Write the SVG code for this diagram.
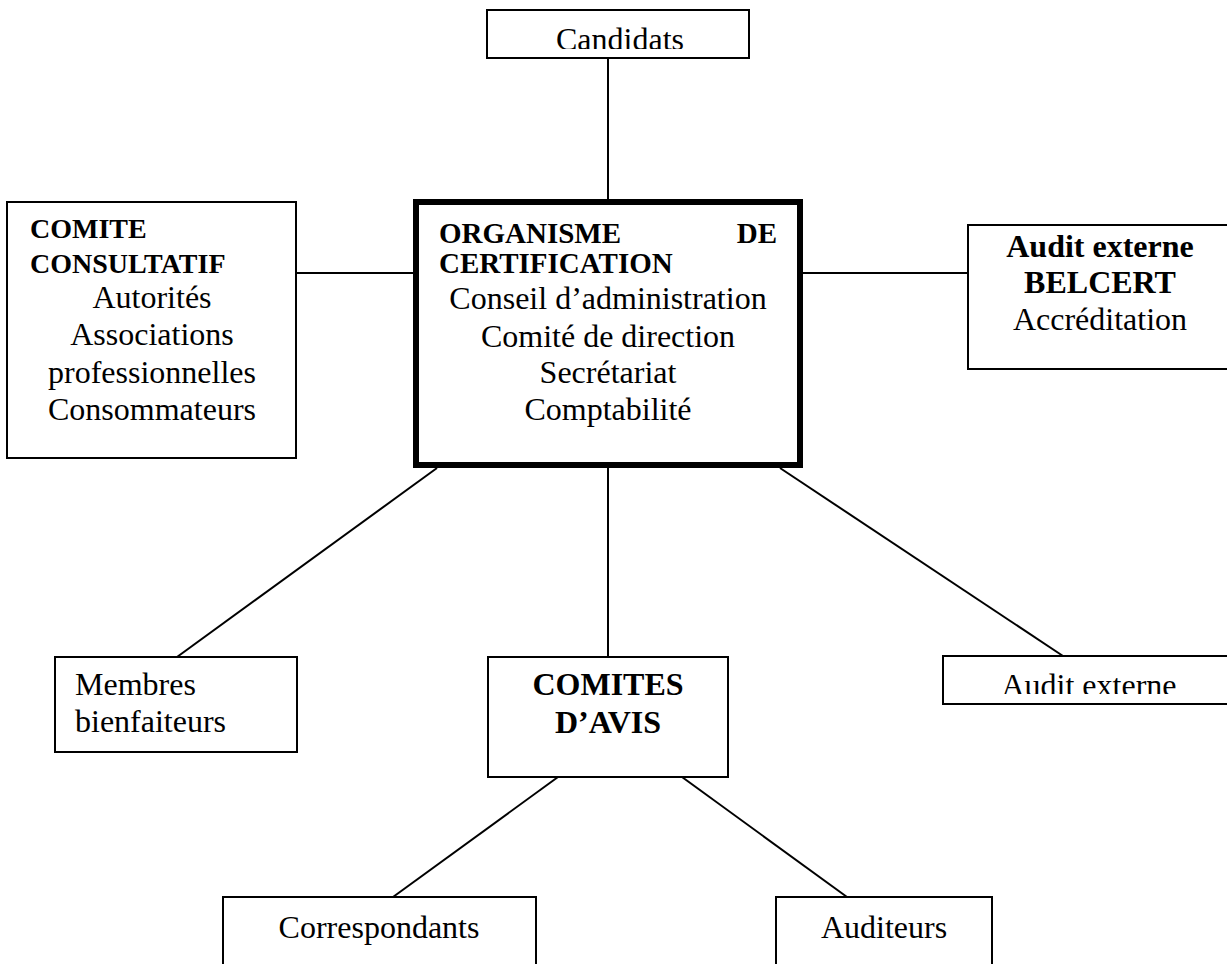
<svg xmlns="http://www.w3.org/2000/svg" width="1227" height="964" viewBox="0 0 1227 964">
  <style>
    .box { fill: #ffffff; stroke: #000000; stroke-width: 2; }
    .main { fill: #ffffff; stroke: #000000; stroke-width: 6; }
    .link { stroke: #000000; stroke-width: 2; fill: none; }
    text { font-family: "Liberation Serif", "Times New Roman", serif; fill: #000000; }
    .t { font-size: 32px; }
    .b { font-size: 32px; font-weight: bold; }
    .b28 { font-size: 28px; font-weight: bold; }
    .b29 { font-size: 29px; font-weight: bold; }
    .c { text-anchor: middle; }
    .r { text-anchor: end; }
  </style>
  <defs>
    <clipPath id="clipCandidats"><rect x="488" y="11" width="260" height="38"/></clipPath>
    <clipPath id="clipAudit2"><rect x="944" y="657" width="290" height="37"/></clipPath>
  </defs>

  <rect width="1227" height="964" fill="#ffffff"/>

  <g id="connectors">
    <line class="link" x1="608" y1="58" x2="608" y2="199"/>
    <line class="link" x1="296" y1="273" x2="413" y2="273"/>
    <line class="link" x1="803" y1="273" x2="968" y2="273"/>
    <line class="link" x1="437" y1="468" x2="177" y2="657"/>
    <line class="link" x1="608" y1="468" x2="608" y2="657"/>
    <line class="link" x1="780" y1="468" x2="1063" y2="656"/>
    <line class="link" x1="558" y1="777" x2="393" y2="897"/>
    <line class="link" x1="682" y1="777" x2="847" y2="897"/>
  </g>

  <g id="candidats">
    <rect class="box" x="487" y="10" width="262" height="48"/>
    <text class="t c" x="620" y="50" clip-path="url(#clipCandidats)">Candidats</text>
  </g>

  <g id="comite-consultatif">
    <rect class="box" x="7" y="202" width="289" height="256"/>
    <text class="b28" x="30" y="238">COMITE</text>
    <text class="b28" x="30" y="273">CONSULTATIF</text>
    <text class="t c" x="152" y="308">Autorités</text>
    <text class="t c" x="152" y="345">Associations</text>
    <text class="t c" x="152" y="383">professionnelles</text>
    <text class="t c" x="152" y="420">Consommateurs</text>
  </g>

  <g id="organisme">
    <rect class="main" x="416" y="202" width="384" height="263"/>
    <text class="b29" x="439" y="243">ORGANISME</text>
    <text class="b29 r" x="777" y="243">DE</text>
    <text class="b29" x="439" y="273">CERTIFICATION</text>
    <text class="t c" x="608" y="309">Conseil d’administration</text>
    <text class="t c" x="608" y="347">Comité de direction</text>
    <text class="t c" x="608" y="383">Secrétariat</text>
    <text class="t c" x="608" y="420">Comptabilité</text>
  </g>

  <g id="audit-belcert">
    <rect class="box" x="968" y="225" width="270" height="144"/>
    <text class="b c" x="1100" y="257">Audit externe</text>
    <text class="b c" x="1100" y="293">BELCERT</text>
    <text class="t c" x="1100" y="330">Accréditation</text>
  </g>

  <g id="membres">
    <rect class="box" x="55" y="657" width="242" height="95"/>
    <text class="t" x="75" y="695">Membres</text>
    <text class="t" x="75" y="732">bienfaiteurs</text>
  </g>

  <g id="comites-avis">
    <rect class="box" x="488" y="657" width="240" height="120"/>
    <text class="b c" x="608" y="695">COMITES</text>
    <text class="b c" x="608" y="733">D’AVIS</text>
  </g>

  <g id="audit-externe">
    <rect class="box" x="943" y="656" width="300" height="48"/>
    <text class="t c" x="1089" y="696" clip-path="url(#clipAudit2)">Audit externe</text>
  </g>

  <g id="correspondants">
    <rect class="box" x="223" y="897" width="313" height="80"/>
    <text class="t c" x="379" y="938">Correspondants</text>
  </g>

  <g id="auditeurs">
    <rect class="box" x="776" y="897" width="216" height="80"/>
    <text class="t c" x="884" y="938">Auditeurs</text>
  </g>
</svg>
